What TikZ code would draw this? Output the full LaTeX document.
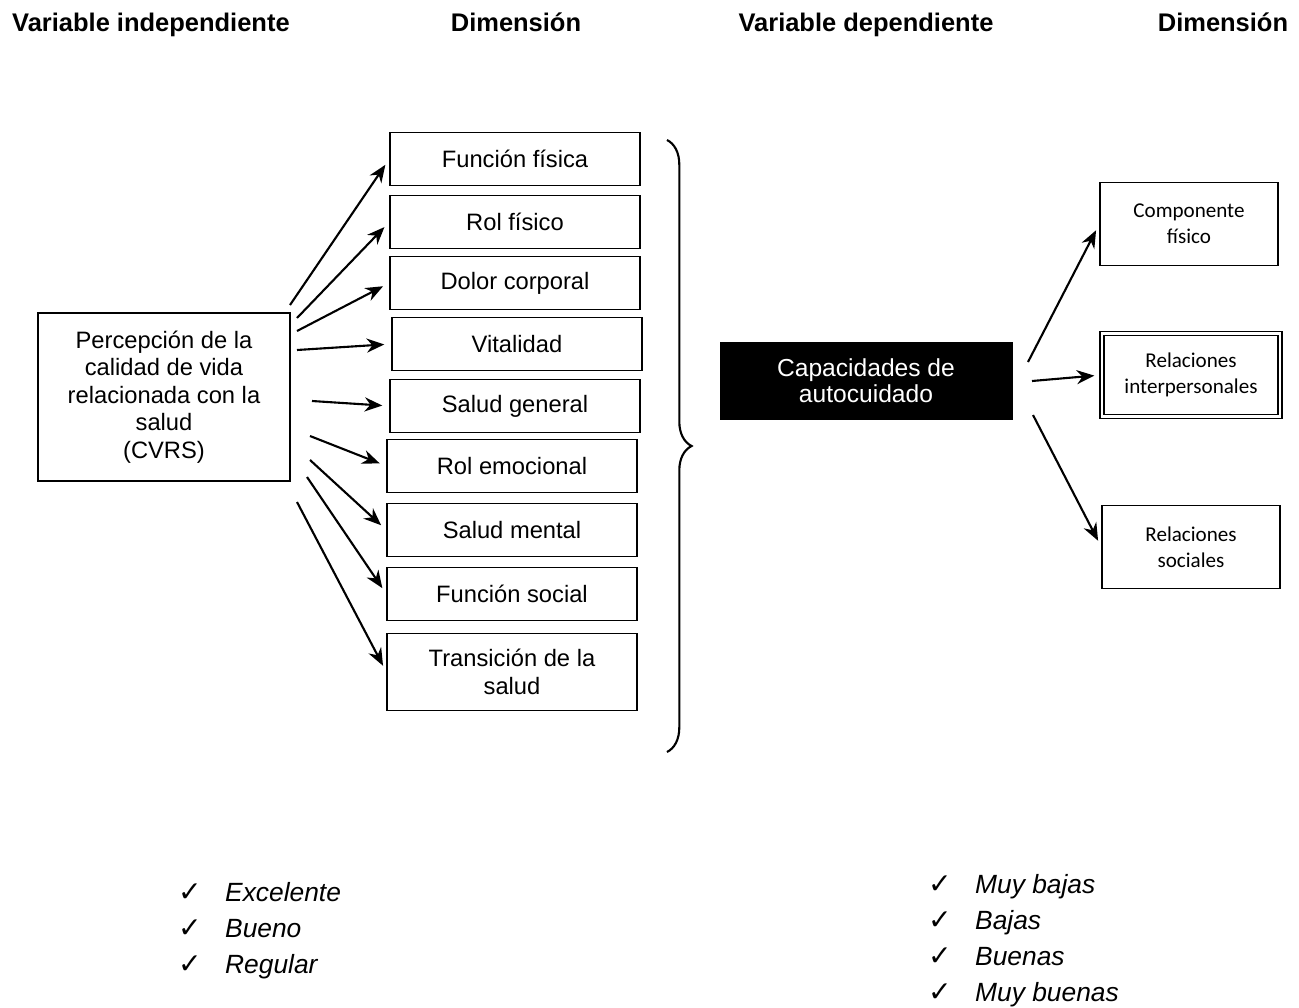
\documentclass[tikz,border=0pt]{standalone}
\usepackage{fontspec}
\setmainfont{Liberation Sans}
\newfontfamily\calfont{Carlito}
\newfontfamily\symfont{DejaVu Sans}
\usetikzlibrary{arrows.meta, decorations.pathreplacing}
\tikzset{
  % Set arrowhead
  >={Stealth[length=10pt,width=8pt]},
  % Column heading
  head/.style={anchor=base, font=\bfseries\fontsize{14.5}{17}\selectfont},
  % Independent variable box
  vbox/.style={draw, thick, minimum width=5.04cm, minimum height=3.36cm,
    align=center, font=\fontsize{13.5}{15.6}\selectfont},
  % Dimension box
  dbox/.style={draw, thick, minimum width=5cm, minimum height=1.06cm,
    align=center, inner sep=2pt, font=\fontsize{13.5}{15.6}\selectfont},
  % Dependent variable box
  blackbox/.style={draw, fill=black, text=white, minimum width=5.84cm,
    minimum height=1.54cm, align=center, font=\fontsize{14}{15}\selectfont},
  % Right dimension box
  rbox/.style={draw, thick, minimum width=3.56cm, minimum height=1.66cm,
    align=center, font=\calfont\fontsize{12}{15}\selectfont},
  % Arrows
  link/.style={->, line width=1.2pt, shorten >=4pt},
  % Check list
  tick/.style={anchor=base west, font=\symfont\fontsize{16}{18}\selectfont},
  item/.style={anchor=base west, font=\itshape\fontsize{15}{17}\selectfont},
}
\begin{document}
\begin{tikzpicture}[x=0.02cm, y=-0.02cm]
  \useasboundingbox (0,0) rectangle (1299,1008);

  % headings
  \node[head, anchor=base west] (h1) at (6,31) {Variable independiente};
  \node[head] (h2) at (516,31) {Dimensión};
  \node[head] (h3) at (866,31) {Variable dependiente};
  \node[head] (h4) at (1223,31) {Dimensión};

  % independent variable
  \node[vbox] (cvrs) at (164,397) {Percepción de la\\calidad de vida\\relacionada con la\\salud\\(CVRS)};

  \node[dbox] (d1) at (515,159) {Función física};
  \node[dbox] (d2) at (515,222) {Rol físico};
  \node[dbox] (d3) at (515,283) {Dolor corporal};
  \node[dbox] (d4) at (517,344) {Vitalidad};
  \node[dbox] (d5) at (515,406) {Salud general};
  \node[dbox] (d6) at (512,466) {Rol emocional};
  \node[dbox] (d7) at (512,530) {Salud mental};
  \node[dbox] (d8) at (512,594) {Función social};
  \node[dbox, minimum height=1.54cm] (d9) at (512,672) {Transición de la\\salud};

  \foreach \i/\sx/\sy in {1/290/305, 2/297/318, 3/297/331, 4/297/350,
      5/312/401, 6/310/436, 7/310/460, 8/307/477, 9/297/502} {
    \coordinate (t\i) at (\sx,\sy);
    \draw[link] (t\i) -- (d\i.west);
  }

  \draw[line width=1.2pt, decorate, decoration={brace, amplitude=14pt}] (667,140) -- (667,752);

  % dependent variable
  \node[blackbox] (cap) at (866,381) {Capacidades de\\autocuidado};

  \node[rbox] (r1) at (1189,224) {Componente\\físico};
  \node[rbox, double, double distance=1.5pt] (r2) at (1191,375) {Relaciones\\interpersonales};
  \node[rbox] (r3) at (1191,547) {Relaciones\\sociales};

  \coordinate (u1) at (1028,362);
  \coordinate (u2) at (1032,381);
  \coordinate (u3) at (1033,415);
  \draw[link] (u1) -- (r1.west);
  \draw[link] (u2) -- (r2.west);
  \draw[link] (u3) -- (r3.west);

  % scales
  \foreach \t [count=\k] in {Excelente, Bueno, Regular} {
    \node[tick] (a\k) at (172,865+36*\k) {✓};
    \node[item] (b\k) at (219,865+36*\k) {\t};
  }
  \foreach \t [count=\k] in {Muy bajas, Bajas, Buenas, Muy buenas} {
    \node[tick] (c\k) at (922,857+36*\k) {✓};
    \node[item] (e\k) at (969,857+36*\k) {\t};
  }
\end{tikzpicture}
\end{document}
